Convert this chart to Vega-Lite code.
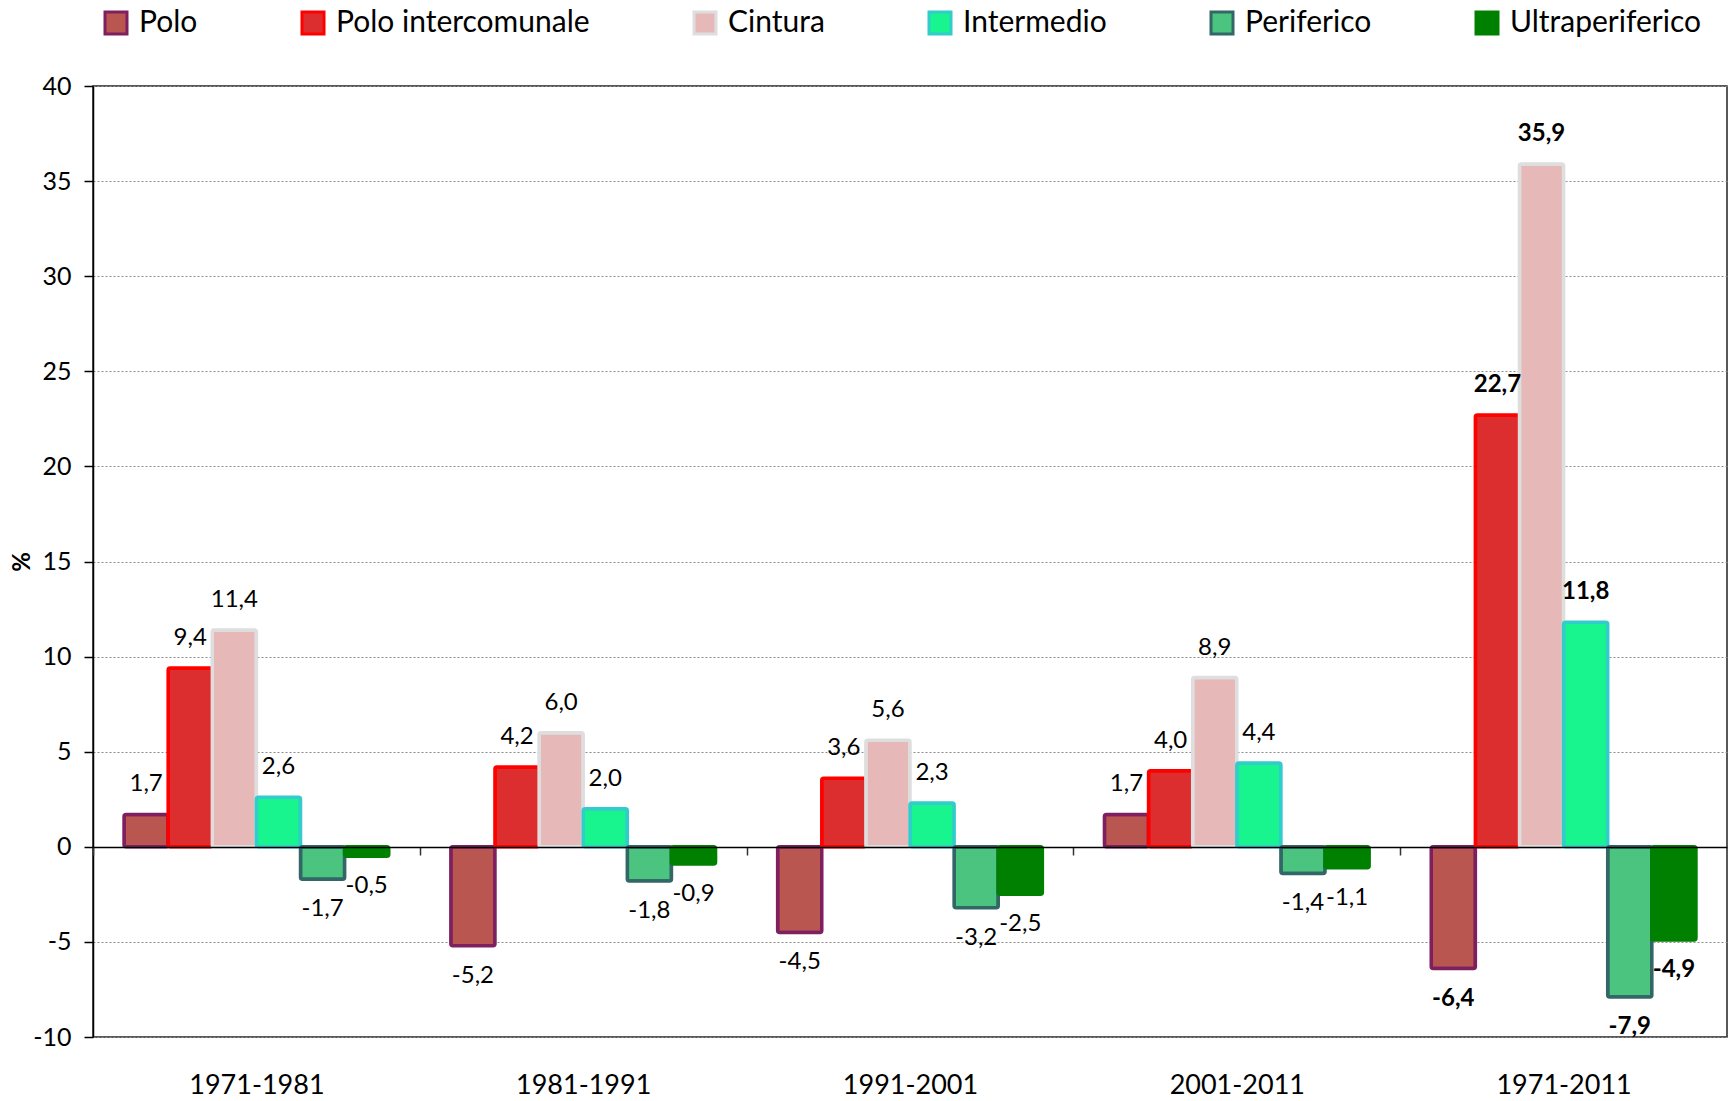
{
  "$schema": "https://vega.github.io/schema/vega-lite/v6.json",
  "width": 1634,
  "height": 951,
  "autosize": {"type": "none"},
  "padding": {"left": 93, "top": 86, "right": 8, "bottom": 64},
  "background": "white",
  "config": {
    "font": "Lato",
    "view": {"stroke": "#222222", "strokeWidth": 1.5},
    "locale": {
      "number": {"decimal": ",", "thousands": ".", "grouping": [3], "currency": ["", " €"], "minus": "-"}
    }
  },
  "data": {
    "values": [
      {"period": "1971-1981", "cat": "Polo", "value": 1.7},
      {"period": "1971-1981", "cat": "Polo intercomunale", "value": 9.4},
      {"period": "1971-1981", "cat": "Cintura", "value": 11.4},
      {"period": "1971-1981", "cat": "Intermedio", "value": 2.6},
      {"period": "1971-1981", "cat": "Periferico", "value": -1.7},
      {"period": "1971-1981", "cat": "Ultraperiferico", "value": -0.5},
      {"period": "1981-1991", "cat": "Polo", "value": -5.2},
      {"period": "1981-1991", "cat": "Polo intercomunale", "value": 4.2},
      {"period": "1981-1991", "cat": "Cintura", "value": 6.0},
      {"period": "1981-1991", "cat": "Intermedio", "value": 2.0},
      {"period": "1981-1991", "cat": "Periferico", "value": -1.8},
      {"period": "1981-1991", "cat": "Ultraperiferico", "value": -0.9},
      {"period": "1991-2001", "cat": "Polo", "value": -4.5},
      {"period": "1991-2001", "cat": "Polo intercomunale", "value": 3.6},
      {"period": "1991-2001", "cat": "Cintura", "value": 5.6},
      {"period": "1991-2001", "cat": "Intermedio", "value": 2.3},
      {"period": "1991-2001", "cat": "Periferico", "value": -3.2},
      {"period": "1991-2001", "cat": "Ultraperiferico", "value": -2.5},
      {"period": "2001-2011", "cat": "Polo", "value": 1.7},
      {"period": "2001-2011", "cat": "Polo intercomunale", "value": 4.0},
      {"period": "2001-2011", "cat": "Cintura", "value": 8.9},
      {"period": "2001-2011", "cat": "Intermedio", "value": 4.4},
      {"period": "2001-2011", "cat": "Periferico", "value": -1.4},
      {"period": "2001-2011", "cat": "Ultraperiferico", "value": -1.1},
      {"period": "1971-2011", "cat": "Polo", "value": -6.4},
      {"period": "1971-2011", "cat": "Polo intercomunale", "value": 22.7},
      {"period": "1971-2011", "cat": "Cintura", "value": 35.9},
      {"period": "1971-2011", "cat": "Intermedio", "value": 11.8},
      {"period": "1971-2011", "cat": "Periferico", "value": -7.9},
      {"period": "1971-2011", "cat": "Ultraperiferico", "value": -4.9}
    ]
  },
  "encoding": {
    "x": {
      "field": "period",
      "type": "nominal",
      "sort": ["1971-1981", "1981-1991", "1991-2001", "2001-2011", "1971-2011"],
      "scale": {"paddingInner": 0.19, "paddingOuter": 0.095},
      "axis": {
        "title": null,
        "orient": "bottom",
        "offset": -190,
        "zindex": 1,
        "domainColor": "#000000",
        "domainWidth": 1.5,
        "tickColor": "#333333",
        "tickSize": 8,
        "tickWidth": 1.5,
        "bandPosition": 0.5,
        "tickOffset": -163.4,
        "labelOffset": 163.4,
        "labelPadding": 217,
        "labelAngle": 0,
        "labelFontSize": 27,
        "labelColor": "#000000",
        "labelFont": "Lato"
      }
    },
    "xOffset": {
      "field": "cat",
      "type": "nominal",
      "sort": ["Polo", "Polo intercomunale", "Cintura", "Intermedio", "Periferico", "Ultraperiferico"],
      "scale": {"paddingInner": 0, "paddingOuter": 0}
    },
    "y": {
      "field": "value",
      "type": "quantitative",
      "scale": {"domain": [-10, 40], "nice": false, "zero": false},
      "axis": {
        "title": "%",
        "titleFontSize": 24,
        "titleFontWeight": "bold",
        "titleColor": "#000000",
        "titlePadding": -2,
        "values": [-10, -5, 0, 5, 10, 15, 20, 25, 30, 35, 40],
        "format": "d",
        "labelFontSize": 25,
        "labelColor": "#000000",
        "labelPadding": 13,
        "tickSize": 9,
        "tickColor": "#000000",
        "tickWidth": 1.5,
        "domainColor": "#000000",
        "domainWidth": 1.5,
        "grid": true,
        "gridColor": "#8c8c8c",
        "gridDash": [2, 2],
        "gridWidth": 1
      }
    }
  },
  "layer": [
    {
      "mark": {"type": "bar", "strokeWidth": 3.5, "cornerRadius": 2, "strokeJoin": "round"},
      "encoding": {
        "fill": {
          "field": "cat",
          "type": "nominal",
          "sort": ["Polo", "Polo intercomunale", "Cintura", "Intermedio", "Periferico", "Ultraperiferico"],
          "scale": {
            "domain": ["Polo", "Polo intercomunale", "Cintura", "Intermedio", "Periferico", "Ultraperiferico"],
            "range": ["#BA5650", "#DC2E2E", "#E6B8B8", "#18F48E", "#4AC47E", "#008000"]
          },
          "legend": {
            "title": null,
            "orient": "none",
            "legendX": 8,
            "legendY": -78,
            "direction": "horizontal",
            "columnPadding": 98,
            "symbolType": "square",
            "symbolSize": 484,
            "symbolStrokeWidth": 3,
            "labelFontSize": 30,
            "labelLimit": 500,
            "labelColor": "#000000",
            "labelOffset": 8,
            "labelFont": "Lato"
          }
        },
        "stroke": {
          "field": "cat",
          "type": "nominal",
          "sort": ["Polo", "Polo intercomunale", "Cintura", "Intermedio", "Periferico", "Ultraperiferico"],
          "scale": {
            "domain": ["Polo", "Polo intercomunale", "Cintura", "Intermedio", "Periferico", "Ultraperiferico"],
            "range": ["#7E2060", "#FF0000", "#DEDEDE", "#33CCCC", "#336666", "#008000"]
          },
          "legend": {
            "title": null,
            "orient": "none",
            "legendX": 8,
            "legendY": -78,
            "direction": "horizontal",
            "columnPadding": 98,
            "symbolType": "square",
            "symbolSize": 484,
            "symbolStrokeWidth": 3,
            "labelFontSize": 30,
            "labelLimit": 500,
            "labelColor": "#000000",
            "labelOffset": 8,
            "labelFont": "Lato"
          }
        }
      }
    },
    {
      "transform": [{"filter": "datum.period != '1971-2011' && datum.value >= 0"}],
      "mark": {"type": "text", "baseline": "middle", "align": "center", "dy": -30, "fontSize": 24, "color": "#000000"},
      "encoding": {"text": {"field": "value", "type": "quantitative", "format": ".1f"}}
    },
    {
      "transform": [{"filter": "datum.period != '1971-2011' && datum.value < 0"}],
      "mark": {"type": "text", "baseline": "middle", "align": "center", "dy": 30, "fontSize": 24, "color": "#000000"},
      "encoding": {"text": {"field": "value", "type": "quantitative", "format": ".1f"}}
    },
    {
      "transform": [{"filter": "datum.period == '1971-2011' && datum.value >= 0"}],
      "mark": {"type": "text", "baseline": "middle", "align": "center", "dy": -30, "fontSize": 24, "fontWeight": "bold", "color": "#000000"},
      "encoding": {"text": {"field": "value", "type": "quantitative", "format": ".1f"}}
    },
    {
      "transform": [{"filter": "datum.period == '1971-2011' && datum.value < 0"}],
      "mark": {"type": "text", "baseline": "middle", "align": "center", "dy": 30, "fontSize": 24, "fontWeight": "bold", "color": "#000000"},
      "encoding": {"text": {"field": "value", "type": "quantitative", "format": ".1f"}}
    }
  ]
}
